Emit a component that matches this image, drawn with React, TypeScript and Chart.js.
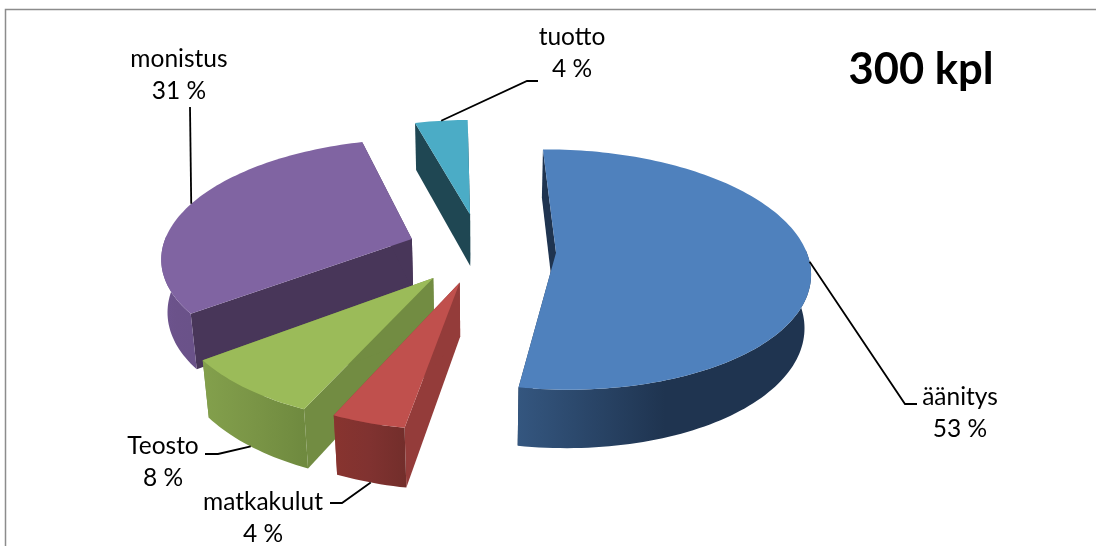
import React, { useEffect, useRef } from "react";
import { Chart, registerables } from "chart.js";

Chart.register(...registerables);

// Budget shares for a run of 300 copies, clockwise from the top.
const categories = ["äänitys", "matkakulut", "Teosto", "monistus", "tuotto"];
const shares = [53, 4, 8, 31, 4];
const heading = "300 kpl";

const topColors = ["#4F81BD", "#C0504D", "#9BBB59", "#8064A2", "#4BACC6"];
const cutColors = ["#1F3450", "#943C3A", "#728C42", "#483659", "#1F4753"];
const wallStops: string[][] = [
  ["#34567F", "#1F3450", "#1F3450"],
  ["#88342F", "#803230", "#732E2B"],
  ["#83A04C", "#7A9546", "#6F8A3F"],
  ["#6D548E", "#6B528A", "#6A5289"],
  ["#2F6B7B", "#2F6B7B", "#2F6B7B"],
];

// Painter's order: back slices first.
const paintOrder = [4, 0, 3, 2, 1];

// How far each slice is pulled out of the pie.
const explode = [75, 70, 74, 74, 80];

// Label placement: text centre, first baseline, and the leader's knee and end.
const labelSpots = [
  { cx: 960, y: 405, knee: [905, 404], end: [917, 404], onBase: false },
  { cx: 263, y: 510, knee: [342, 503], end: [330, 503], onBase: true },
  { cx: 163, y: 454, knee: [218, 454], end: [205, 454], onBase: true },
  { cx: 179, y: 67, knee: [190, 107], end: [190, 107], onBase: false },
  { cx: 572, y: 45, knee: [527, 81], end: [538, 81], onBase: false },
];

const RADIUS = 250;
const SQUASH = 0.468;
const PERSPECTIVE = 0.14;
const DEPTH = 54;
const SINK = 0.0914;
const FONT = "Lato, 'Open Sans', sans-serif";

type Pt = [number, number];

const pie3d = {
  id: "pie3d",
  beforeDraw(chart: any) {
    const { ctx } = chart;
    ctx.save();
    ctx.fillStyle = "#FFFFFF";
    ctx.fillRect(0, 0, chart.width, chart.height);
    ctx.strokeStyle = "#8C8C8C";
    ctx.lineWidth = 1.5;
    ctx.beginPath();
    ctx.moveTo(5.5, chart.height);
    ctx.lineTo(5.5, 9.5);
    ctx.lineTo(chart.width, 9.5);
    ctx.stroke();
    ctx.restore();
  },
  beforeDatasetsDraw(chart: any) {
    const { ctx } = chart;
    const arcs = chart.getDatasetMeta(0).data;
    const ox = arcs[0].x;
    const oy = arcs[0].y;

    const project = (x: number, y: number, z: number): Pt => {
      const w = 1 / (1 - (PERSPECTIVE * y) / RADIUS + (SINK * z) / RADIUS);
      return [ox + x * w, oy + (SQUASH * y + z) * w];
    };

    const sliceGeometry = (arc: any, pull: number) => {
      const { startAngle, endAngle } = arc;
      const mid = (startAngle + endAngle) / 2;
      const vx = Math.cos(mid) * pull;
      const vy = Math.sin(mid) * pull;
      const r = arc.outerRadius;
      const at = (a: number, z: number) => project(vx + r * Math.cos(a), vy + r * Math.sin(a), z);
      const steps = Math.max(8, Math.ceil((endAngle - startAngle) * 40));
      const angles: number[] = [];
      for (let i = 0; i <= steps; i++) angles.push(startAngle + ((endAngle - startAngle) * i) / steps);
      return { mid, vx, vy, at, angles, startAngle, endAngle };
    };

    const fillPath = (pts: Pt[], style: any) => {
      ctx.beginPath();
      pts.forEach((p, i) => (i ? ctx.lineTo(p[0], p[1]) : ctx.moveTo(p[0], p[1])));
      ctx.closePath();
      ctx.fillStyle = style;
      ctx.fill();
    };

    paintOrder.forEach((i) => {
      const g = sliceGeometry(arcs[i], explode[i]);
      const v0 = project(g.vx, g.vy, 0);
      const v1 = project(g.vx, g.vy, DEPTH);

      // Radial cut faces
      [g.startAngle, g.endAngle].forEach((a) => {
        fillPath([v0, g.at(a, 0), g.at(a, DEPTH), v1], cutColors[i]);
      });

      // Outer wall, only where it faces the viewer
      const front = g.angles.filter((a) => Math.sin(a) >= -0.03);
      if (front.length > 1 && i !== 4) {
        const upper = front.map((a) => g.at(a, 0));
        const lower = front.map((a) => g.at(a, DEPTH)).reverse();
        const xs = upper.map((p) => p[0]);
        const grad = ctx.createLinearGradient(Math.min(...xs), 0, Math.max(...xs), 0);
        wallStops[i].forEach((c, k) => grad.addColorStop(k / 2, c));
        fillPath([...upper, ...lower], grad);
      }

      // Top face
      fillPath([v0, ...g.angles.map((a) => g.at(a, 0))], topColors[i]);
    });

    // Leader lines and data labels
    ctx.textAlign = "center";
    ctx.textBaseline = "alphabetic";
    ctx.font = `24.5px ${FONT}`;
    labelSpots.forEach((spot, i) => {
      const g = sliceGeometry(arcs[i], explode[i]);
      const anchor = g.at(g.mid, spot.onBase ? DEPTH : 0);
      ctx.strokeStyle = "#000000";
      ctx.lineWidth = 1.8;
      ctx.beginPath();
      ctx.moveTo(anchor[0], anchor[1]);
      ctx.lineTo(spot.knee[0], spot.knee[1]);
      ctx.lineTo(spot.end[0], spot.end[1]);
      ctx.stroke();
      ctx.fillStyle = "#000000";
      ctx.fillText(categories[i], spot.cx, spot.y);
      ctx.fillText(`${shares[i]} %`, spot.cx, spot.y + 32);
    });

    ctx.font = `bold 43.5px ${FONT}`;
    ctx.fillText(heading, 921, 84);
    return false;
  },
};

export default function App() {
  const ref = useRef<HTMLCanvasElement>(null);
  useEffect(() => {
    if (!ref.current) return;
    const chart = new Chart(ref.current, {
      type: "pie",
      data: {
        labels: categories,
        datasets: [{ data: shares, backgroundColor: topColors, borderWidth: 0, radius: RADIUS }],
      },
      options: {
        responsive: false,
        animation: false,
        rotation: -1,
        layout: { padding: { right: 134, bottom: 46 } },
        plugins: { legend: { display: false }, tooltip: { enabled: false } },
      },
      plugins: [pie3d],
    } as any);
    return () => chart.destroy();
  }, []);
  return (
    <div style={{ position: "absolute", left: 0, top: 0, width: 1096, height: 546, overflow: "hidden" }}>
      <canvas ref={ref} width={1096} height={546} style={{ display: "block" }} />
    </div>
  );
}
